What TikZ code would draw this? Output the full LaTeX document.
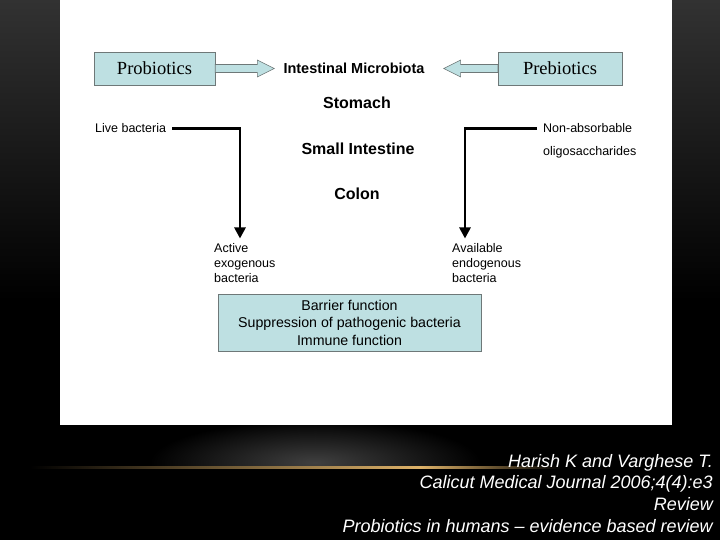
\documentclass[tikz,border=0pt]{standalone}
\usepackage{fontspec}
\setmainfont{Liberation Sans}
\newfontfamily\timesfam{Liberation Serif}
\usepackage{tikz}
\usetikzlibrary{arrows.meta,positioning,calc}
\definecolor{BoxCyan}{RGB}{190,224,226}
\definecolor{BoxEdge}{RGB}{110,120,120}
\definecolor{GlowGold}{RGB}{222,178,105}
\definecolor{SlideGray}{RGB}{50,50,50}

\tikzset{
  srcbox/.style={draw=BoxEdge, fill=BoxCyan, minimum width=121pt, minimum height=33pt, font=\timesfam\fontsize{18.5}{20}\selectfont},
  site/.style={font=\bfseries\fontsize{16}{18}\selectfont, inner sep=2pt},
  note/.style={font=\fontsize{12.5}{15}\selectfont, align=left, inner sep=0pt},
  hollow/.style={draw=BoxEdge, fill=BoxCyan, line width=0.6pt},
  flow/.style={line width=2.6pt, line join=miter, -{Triangle[length=11pt,width=11pt]}, shorten >=5pt},
  cite/.style={text=white, font=\itshape\fontsize{18}{21.7}\selectfont, align=right, inner sep=0pt}
}

\begin{document}
\begin{tikzpicture}[x=1pt, y=-1pt]
    % slide background
    \useasboundingbox (0,0) rectangle (720,540);
    \fill[black] (0,0) rectangle (720,540);
    \shade[top color=SlideGray, bottom color=black] (0,0) rectangle (720,300);
    \shade[inner color=gray!50!black, outer color=black] (150,420) rectangle (480,505);
    \fill[black] (0,467) rectangle (720,540);
    \shade[left color=black, right color=GlowGold] (30,466) rectangle (420,468.5);
    \shade[left color=GlowGold, right color=black] (420,466) rectangle (560,468.5);
    \fill[white] (60,0) rectangle (672,425);

    % sources and target
    \node[srcbox] (probio) at (154.5,68.5) {Probiotics};
    \node[srcbox, minimum width=124pt] (prebio) at (560,68.5) {Prebiotics};
    \node[site, font=\bfseries\fontsize{14.5}{16}\selectfont] (micro) at (354,68) {Intestinal Microbiota};
    \node[site] (stomach) at (357,103) {Stomach};
    \node[site] (smallint) at (358,149) {Small Intestine};
    \node[site] (colon) at (357,194) {Colon};

    % block arrows
    \coordinate (ptip) at ($(micro.west |- probio.east)+(-7,0)$);
    \coordinate (qtip) at ($(micro.east |- prebio.west)+(17,0)$);
    \draw[hollow] ($(probio.east)+(0,-4)$) -- ($(ptip)+(-17,-4)$) -- ($(ptip)+(-17,-8.5)$) -- (ptip)
        -- ($(ptip)+(-17,8.5)$) -- ($(ptip)+(-17,4)$) -- ($(probio.east)+(0,4)$) -- cycle;
    \draw[hollow] ($(prebio.west)+(0,-4)$) -- ($(qtip)+(17,-4)$) -- ($(qtip)+(17,-8.5)$) -- (qtip)
        -- ($(qtip)+(17,8.5)$) -- ($(qtip)+(17,4)$) -- ($(prebio.west)+(0,4)$) -- cycle;

    % side notes
    \node[note, anchor=west] (live) at (95,128.5) {Live bacteria};
    \node[note, anchor=west] (nonabs) at (543,128.5) {Non-absorbable};
    \node[note, anchor=west] (oligo) at (543,152) {oligosaccharides};
    \node[note, anchor=north west] (active) at (214,243.5) {Active\\exogenous\\bacteria};
    \node[note, anchor=north west] (avail) at (452,243.5) {Available\\endogenous\\bacteria};

    \coordinate (lturn) at (240,0);
    \coordinate (rturn) at (465,0);
    \draw[flow] ([xshift=6pt]live.east) -| (active.north -| lturn);
    \draw[flow] ([xshift=-6pt]nonabs.west) -| (avail.north -| rturn);

    % effects
    \node[draw=BoxEdge, fill=BoxCyan, minimum width=263pt, minimum height=57pt, align=center,
          font=\fontsize{14.2}{17.5}\selectfont] (effects) at (349.5,322.5)
          {Barrier function\\Suppression of pathogenic bacteria\\Immune function};

    % reference
    \node[cite, anchor=north east] (refs) at (713,454)
        {Harish K and Varghese T.\\Calicut Medical Journal 2006;4(4):e3\\Review\\Probiotics in humans -- evidence based review};
\end{tikzpicture}
\end{document}
